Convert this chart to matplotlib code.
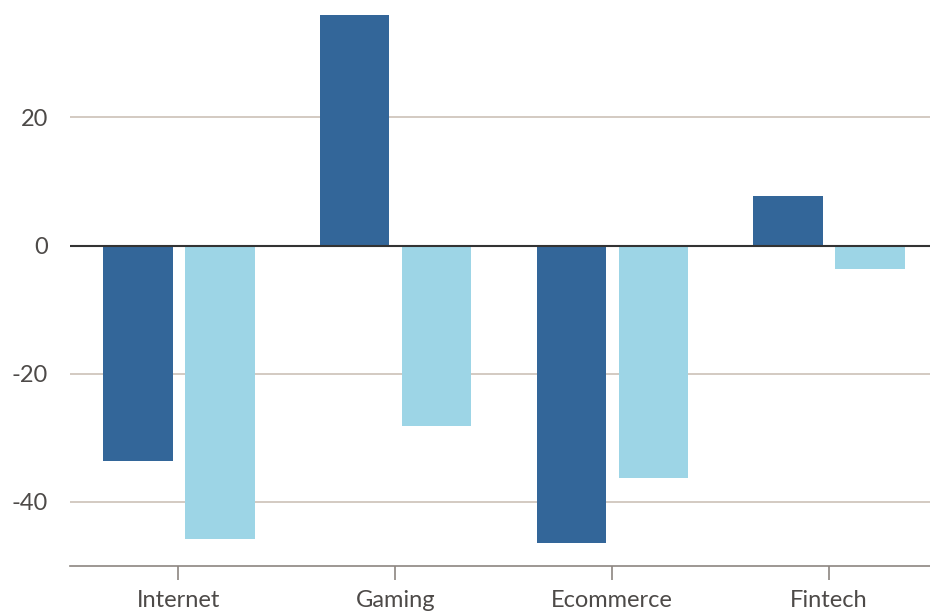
import numpy as np
import matplotlib.pyplot as plt

categories = ["Internet", "Gaming", "Ecommerce", "Fintech"]
series_a = [-33.6, 35.9, -46.4, 7.7]
series_b = [-45.8, -28.1, -36.2, -3.7]
y_ticks = [-40, -20, 0, 20]

dark = "#336699"
light = "#9dd5e6"
grid = "#ccc1b7"
text = "#4d4a48"

plt.rcParams["font.family"] = ["Lato", "DejaVu Sans"]

fig = plt.figure(figsize=(9.3, 6.11), dpi=100)
ax = fig.add_axes([70 / 930, 1 - 566 / 611, 1 - 70 / 930, 566 / 611])

x = np.arange(len(categories))
w = 0.322
ax.bar(x - 0.188, series_a, w, color=dark, zorder=2)
ax.bar(x + 0.19, series_b, w, color=light, zorder=2)

ax.set_xlim(-0.5, 3.465)
ax.set_ylim(-50, 38.3)
ax.set_yticks(y_ticks)
ax.set_yticklabels([str(v) for v in y_ticks])
ax.set_xticks(x)
ax.set_xticklabels(categories)

for v in y_ticks:
    if v != 0:
        ax.axhline(v, color=grid, lw=1.2, zorder=1)
ax.axhline(0, color="#333333", lw=1.5, zorder=3)

for s in ["top", "right", "left"]:
    ax.spines[s].set_visible(False)
ax.spines["bottom"].set_color("#8c8580")
ax.spines["bottom"].set_linewidth(1.2)

ax.tick_params(axis="y", length=0, pad=16, labelsize=17, labelcolor=text)
ax.tick_params(axis="x", length=10, width=1.2, color="#8c8580", pad=7,
               labelsize=17, labelcolor=text)

fig.savefig("out.png", dpi=100)
